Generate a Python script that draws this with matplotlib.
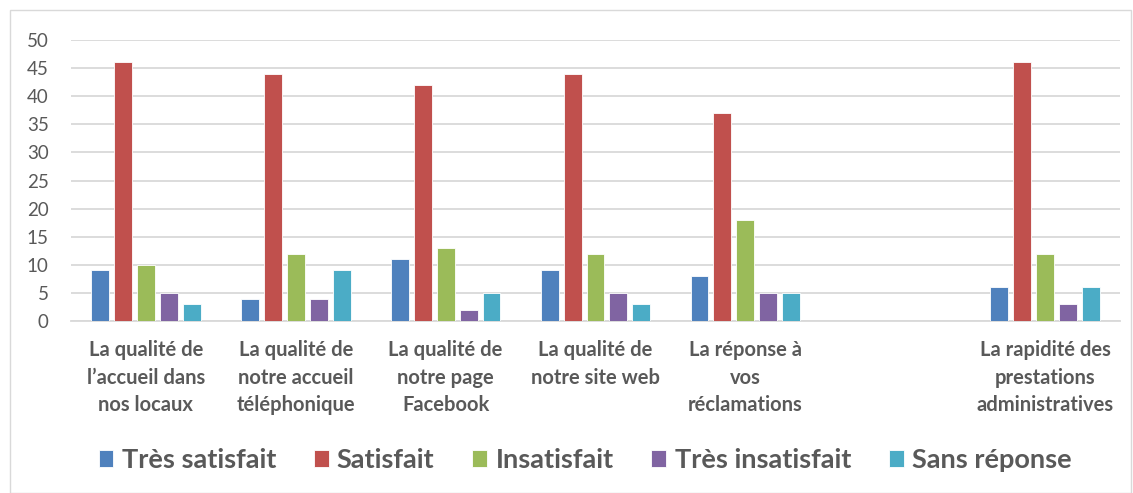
import matplotlib
matplotlib.use("Agg")
import matplotlib.pyplot as plt
import numpy as np
from matplotlib.patches import Rectangle

categories = ["La qualité de\nl’accueil dans\nnos locaux",
              "La qualité de\nnotre accueil\ntéléphonique",
              "La qualité de\nnotre page\nFacebook",
              "La qualité de\nnotre site web",
              "La réponse à\nvos\nréclamations",
              "",
              "La rapidité des\nprestations\nadministratives"]
series_names = ["Très satisfait", "Satisfait", "Insatisfait", "Très insatisfait", "Sans réponse"]
tres_satisfait = [9, 4, 11, 9, 8, np.nan, 6]
satisfait = [46, 44, 42, 44, 37, np.nan, 46]
insatisfait = [10, 12, 13, 12, 18, np.nan, 12]
tres_insatisfait = [5, 4, 2, 5, 5, np.nan, 3]
sans_reponse = [3, 9, 5, 3, 5, np.nan, 6]
colors = ["#4F81BD", "#C0504D", "#9BBB59", "#8064A2", "#4BACC6"]
yticks = [0, 5, 10, 15, 20, 25, 30, 35, 40, 45, 50]

plt.rcParams['font.family'] = ['Lato', 'DejaVu Sans']
txt = "#595959"

fig = plt.figure(figsize=(11.33, 4.93), dpi=100)
fig.patches.append(Rectangle((10/1133, 0), 1 - 10/1133 - 2/1133, 1 - 10/493,
                             transform=fig.transFigure, fill=False,
                             edgecolor="#D9D9D9", linewidth=1))
ax = fig.add_axes([71/1133, 1 - 321/493, (1120 - 71)/1133, (321 - 40)/493])

data = [tres_satisfait, satisfait, insatisfait, tres_insatisfait, sans_reponse]
x = np.arange(len(categories))
step = 0.153
w = 0.12
for i, (vals, name, c) in enumerate(zip(data, series_names, colors)):
    ax.bar(x + (i - 2) * step, vals, w, color=c, label=name, zorder=3,
           edgecolor="white", linewidth=0.6)

ax.set_xlim(-0.5, len(categories) - 0.5)
ax.set_ylim(0, 50)
ax.set_yticks(yticks)
ax.set_yticklabels([str(t) for t in yticks], fontsize=13.5, color=txt)
ax.set_xticks(x)
ax.set_xticklabels(categories, fontsize=14.5, fontweight="bold", color=txt, linespacing=1.45)
ax.tick_params(axis="x", length=0, pad=14)
ax.tick_params(axis="y", length=0, pad=16)
ax.grid(axis="y", color="#D9D9D9", linewidth=1.3, zorder=0)
for s in ["top", "right", "left"]:
    ax.spines[s].set_visible(False)
ax.spines["bottom"].set_color("#D9D9D9")
ax.spines["bottom"].set_linewidth(1.3)

leg = fig.legend(loc="center", bbox_to_anchor=(585/1133, 1 - 460/493), ncol=5,
                 frameon=False, prop={"size": 19.5, "weight": "bold"},
                 handlelength=0.55, handleheight=0.55, handletextpad=0.3, columnspacing=1.4)
for t in leg.get_texts():
    t.set_color(txt)

fig.savefig("out.png", dpi=100)
